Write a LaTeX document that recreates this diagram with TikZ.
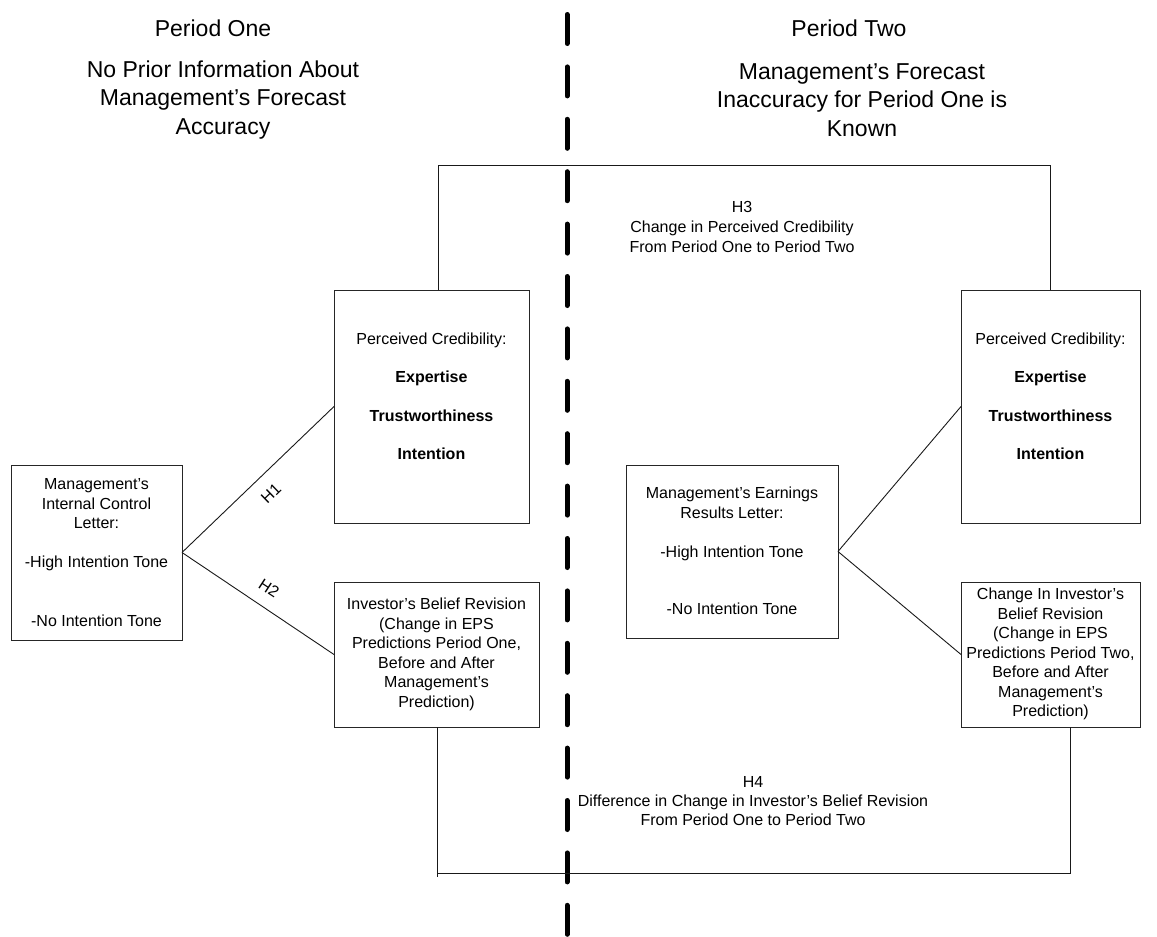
\documentclass[tikz,border=0pt]{standalone}
\usepackage{fontspec}
\setmainfont{Liberation Sans}
\begin{document}
\begin{tikzpicture}[x=1pt,y=-1pt,
  box/.style={draw=black!85, line width=1pt, inner sep=0pt, outer sep=0pt},
  body/.style={font=\fontsize{16}{19.5}\selectfont, align=center, inner sep=0pt},
  title/.style={font=\fontsize{23}{28.3}\selectfont, align=center, inner sep=0pt},
  conn/.style={draw=black!90, line width=0.9pt},
  divider/.style={line width=5pt, line cap=round, dash pattern=on 29pt off 23.4pt}]
\useasboundingbox (0,0) rectangle (1157,937);
\fill[white] (0,0) rectangle (1157,937);

% divider
\coordinate (dtop) at (567,14.5);
\coordinate (dbot) at (567,940);
\draw[divider] (dtop) -- (dbot);

% titles
\node[title] (p1) at (213,28) {Period One};
\node[title] (p1t) at (223,100) {No Prior Information About\\Management’s Forecast\\Accuracy};
\node[title] (p2) at (849,28) {Period Two};
\node[title] (p2t) at (862,100) {Management’s Forecast\\Inaccuracy for Period One is\\Known};

% boxes
\node[box, minimum width=171pt, minimum height=175pt] (lbox) at (96.5,552.5) {};
\node[body] (lboxt) at (96.5,552.5) {Management’s\\Internal Control\\Letter:\\[19.5pt]-High Intention Tone\\[39pt]-No Intention Tone};

\node[box, minimum width=195pt, minimum height=233pt] (pc1) at (431.5,406.5) {};
\node[body] (pc1t) at (431.5,396.5) {Perceived Credibility:\\[19pt]\textbf{Expertise}\\[19pt]\textbf{Trustworthiness}\\[19pt]\textbf{Intention}};

\node[box, minimum width=205pt, minimum height=145pt] (ib1) at (436.5,654.5) {};
\node[body] (ib1t) at (436.5,654.5) {Investor’s Belief Revision\\(Change in EPS\\Predictions Period One,\\Before and After\\Management’s\\Prediction)};

\node[box, minimum width=212pt, minimum height=173pt] (mbox) at (732,551.5) {};
\node[body] (mboxt) at (732,551) {Management’s Earnings\\Results Letter:\\[19.5pt]-High Intention Tone\\[38pt]-No Intention Tone};

\node[box, minimum width=179pt, minimum height=233pt] (pc2) at (1050.5,406.5) {};
\node[body] (pc2t) at (1050.5,396.5) {Perceived Credibility:\\[19pt]\textbf{Expertise}\\[19pt]\textbf{Trustworthiness}\\[19pt]\textbf{Intention}};

\node[box, minimum width=179pt, minimum height=145pt] (ib2) at (1050.5,654.5) {};
\node[body] (ib2t) at (1050.5,654) {Change In Investor’s\\Belief Revision\\(Change in EPS\\Predictions Period Two,\\Before and After\\Management’s\\Prediction)};

% connectors
\draw[conn] (lbox.east) -- (pc1.west);
\draw[conn] (lbox.east) -- (ib1.west);
\draw[conn] (mbox.east) -- (pc2.west);
\draw[conn] (mbox.east) -- (ib2.west);

\node[body, rotate=44] (h1) at (271,493) {H1};
\node[body, rotate=-33] (h2) at (269,588) {H2};

% H3 bracket
\coordinate (h3l) at (438,165);
\coordinate (h3r) at (1050,165);
\draw[conn] (h3l |- pc1.north) -- (h3l) -- (h3r) -- (h3r |- pc2.north);
\node[body, font=\fontsize{16}{20}\selectfont] (h3) at (742,227) {H3\\Change in Perceived Credibility\\From Period One to Period Two};

% H4 bracket
\coordinate (h4l) at (437,873);
\coordinate (h4r) at (1070,873);
\coordinate (h4e) at (437,877);
\draw[conn] (h4l |- ib1.south) -- (h4e);
\draw[conn] (h4l) -- (h4r) -- (h4r |- ib2.south);
\node[body, font=\fontsize{16}{19}\selectfont] (h4) at (753,801) {H4\\Difference in Change in Investor’s Belief Revision\\From Period One to Period Two};
\end{tikzpicture}
\end{document}
